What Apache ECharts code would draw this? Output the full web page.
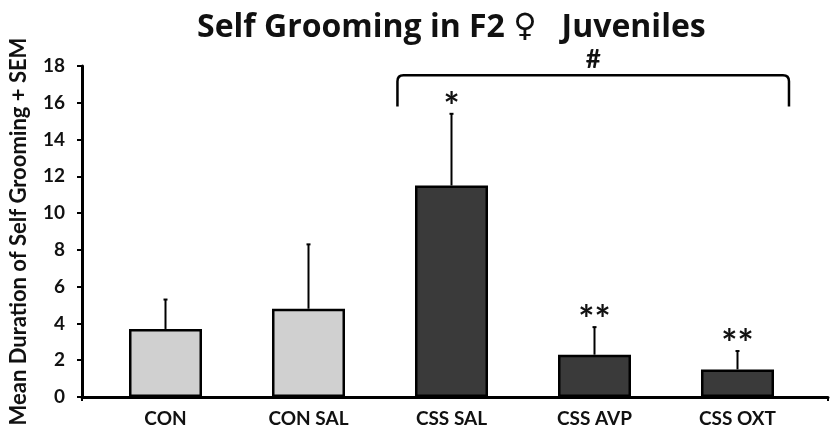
<!DOCTYPE html>
<html>
<head>
<meta charset="utf-8">
<script src="https://cdn.jsdelivr.net/npm/echarts@6/dist/echarts.min.js"></script>
<style>
html, body { margin: 0; padding: 0; background: #fff; }
#main { width: 834px; height: 433px; }
</style>
</head>
<body>
<div id="main"></div>
<script>
var groups = ['CON', 'CON SAL', 'CSS SAL', 'CSS AVP', 'CSS OXT'];
var means = [3.7, 4.8, 11.5, 2.3, 1.5];
var sems = [1.6, 3.5, 3.9, 1.5, 1.0];
var stars = ['', '', '*', '**', '**'];
var barColors = ['#d0d0d0', '#d0d0d0', '#3a3a3a', '#3a3a3a', '#3a3a3a'];
// bracket over the CSS groups: [from group, to group, leg bottom, top]
var bracket = [2, 4, 15.8, 17.5];
var bracketMark = '#';

var FONT = 'Lato, "Open Sans", sans-serif';
var myChart = echarts.init(document.getElementById('main'));

var barData = means.map(function (v, i) {
    return { value: v, itemStyle: { color: barColors[i] } };
});
var errData = means.map(function (v, i) {
    return [i, v, sems[i]];
});

var option = {
    animation: false,
    title: {
        text: '{a|Self Grooming in F2 }{b|\u2640}{a|   Juveniles}',
        left: 192,
        top: 7,
        textStyle: {
            rich: {
                a: { fontFamily: '"Open Sans", sans-serif', fontSize: 32, fontWeight: 'bold', color: '#111' },
                b: { fontFamily: '"DejaVu Sans"', fontSize: 32, fontWeight: 'normal', color: '#111' }
            }
        }
    },
    grid: [
        { left: 94, right: 25, top: 66, bottom: 36 },
        { left: 76, right: 6, top: 66, bottom: 36 }
    ],
    xAxis: [{
        type: 'category',
        gridIndex: 0,
        data: groups,
        axisLine: { show: false },
        axisTick: { show: false },
        axisLabel: { color: '#111', fontFamily: FONT, fontWeight: 'bold', fontSize: 19, margin: 12 }
    }, {
        type: 'value',
        gridIndex: 1,
        min: 0,
        max: 1,
        interval: 1,
        axisLine: { lineStyle: { color: '#000', width: 3 } },
        axisTick: { show: true, length: 4, lineStyle: { color: '#000', width: 2 } },
        axisLabel: { show: false },
        splitLine: { show: false }
    }],
    yAxis: [{
        type: 'value',
        gridIndex: 0,
        min: 0,
        max: 18,
        interval: 2,
        show: false,
        splitLine: { show: false }
    }, {
        type: 'value',
        gridIndex: 1,
        min: 0,
        max: 18,
        interval: 2,
        name: 'Mean Duration of Self Grooming + SEM',
        nameLocation: 'middle',
        nameRotate: 90,
        nameGap: 52,
        nameTextStyle: { color: '#111', fontFamily: FONT, fontWeight: 'bold', fontSize: 22 },
        axisLine: { show: true, lineStyle: { color: '#000', width: 3 } },
        axisTick: { show: true, length: 5, lineStyle: { color: '#000', width: 2 } },
        axisLabel: { color: '#111', fontFamily: FONT, fontWeight: 'bold', fontSize: 19, margin: 17 },
        splitLine: { show: false }
    }],
    series: [{
        type: 'bar',
        xAxisIndex: 0,
        yAxisIndex: 0,
        data: barData,
        barWidth: 73,
        itemStyle: { borderColor: '#000', borderWidth: 2.5 }
    }, {
        type: 'custom',
        xAxisIndex: 0,
        yAxisIndex: 0,
        data: errData,
        encode: { x: 0, y: 1 },
        z: 3,
        renderItem: function (params, api) {
            var i = api.value(0);
            var m = api.value(1);
            var s = api.value(2);
            var p0 = api.coord([i, m]);
            var p1 = api.coord([i, m + s]);
            var star = stars[params.dataIndex];
            var children = [{
                type: 'line',
                shape: { x1: p0[0], y1: p0[1], x2: p1[0], y2: p1[1] },
                style: { stroke: '#000', lineWidth: 2 }
            }, {
                type: 'line',
                shape: { x1: p1[0] - 2, y1: p1[1], x2: p1[0] + 2, y2: p1[1] },
                style: { stroke: '#000', lineWidth: 2 }
            }];
            if (star) {
                children.push({
                    type: 'text',
                    style: {
                        text: star,
                        x: p1[0],
                        y: p1[1] - 6,
                        align: 'center',
                        verticalAlign: 'middle',
                        font: 'bold 38px ' + FONT,
                        fill: '#111'
                    }
                });
            }
            return { type: 'group', children: children };
        }
    }, {
        type: 'custom',
        xAxisIndex: 0,
        yAxisIndex: 0,
        data: [bracket],
        encode: { x: 0, y: 3 },
        z: 3,
        renderItem: function (params, api) {
            var band = api.size([1, 0])[0];
            var pa = api.coord([api.value(0), api.value(3)]);
            var pb = api.coord([api.value(1), api.value(2)]);
            var x1 = pa[0] - 0.378 * band;
            var x2 = pb[0] + 0.36 * band;
            var yTop = pa[1];
            var yLow = pb[1];
            var r = 6;
            var path = 'M' + x1 + ',' + yLow +
                ' L' + x1 + ',' + (yTop + r) +
                ' Q' + x1 + ',' + yTop + ' ' + (x1 + r) + ',' + yTop +
                ' L' + (x2 - r) + ',' + yTop +
                ' Q' + x2 + ',' + yTop + ' ' + x2 + ',' + (yTop + r) +
                ' L' + x2 + ',' + yLow;
            return {
                type: 'group',
                children: [{
                    type: 'path',
                    shape: { pathData: path },
                    style: { stroke: '#000', lineWidth: 2.5, fill: null }
                }, {
                    type: 'text',
                    style: {
                        text: bracketMark,
                        x: (x1 + x2) / 2,
                        y: yTop - 3,
                        align: 'center',
                        verticalAlign: 'bottom',
                        font: 'bold 26px ' + FONT,
                        fill: '#111'
                    }
                }]
            };
        }
    }]
};
myChart.setOption(option);
</script>
</body>
</html>
